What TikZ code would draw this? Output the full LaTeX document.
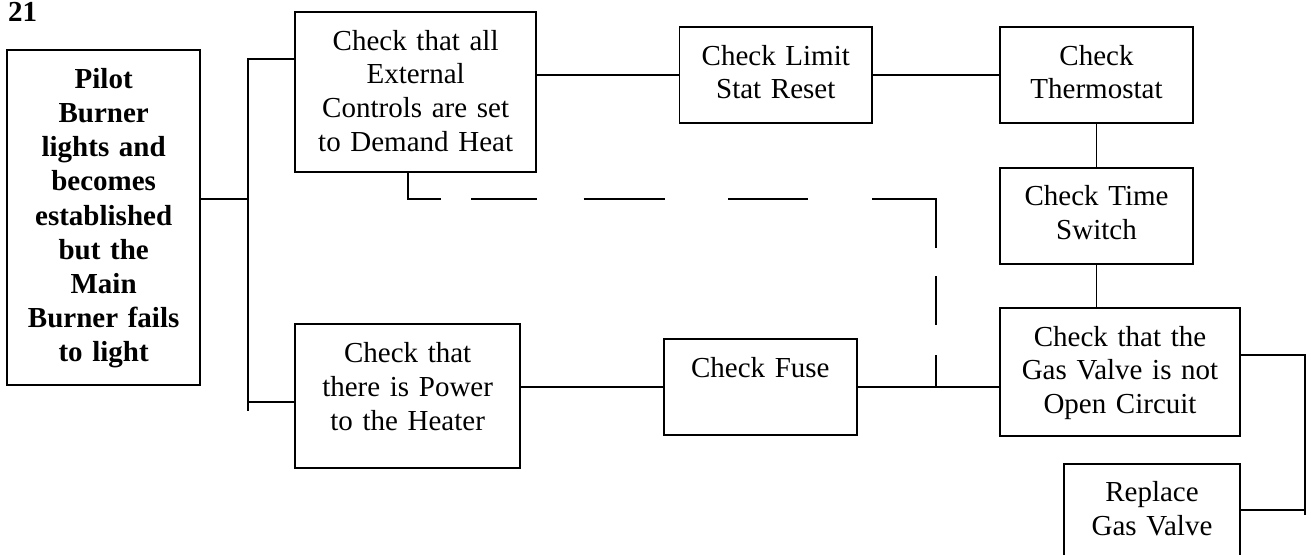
\documentclass[tikz,border=0pt]{standalone}
\usepackage{fontspec}
\setmainfont{Liberation Serif}
\begin{document}
\begin{tikzpicture}[x=1pt,y=-1pt,
  box/.style={draw=black, line width=1.9pt, inner sep=0pt, outer sep=0pt, anchor=north west},
  txt/.style={anchor=base, inner sep=0pt, align=center, font=\fontsize{29}{33.8}\selectfont},
  wire/.style={draw=black, line width=1.9pt},
  dashwire/.style={draw=black, line width=1.9pt,
    dash pattern=on 60pt off 30.3pt on 65.7pt off 46.6pt on 81.7pt off 62.7pt on 80.3pt off 63.7pt on 113pt off 28pt on 49pt off 30pt on 40pt}
]
\useasboundingbox (0,0) rectangle (1311,554);
\clip (0,0) rectangle (1311,554);
\fill[white] (0,0) rectangle (1311,554);

\node[anchor=base west, inner sep=0pt, font=\fontsize{29}{33.8}\selectfont\bfseries] (num) at (8,21) {21};

% boxes
\node[box, minimum width=192.7pt, minimum height=335pt] (pilot) at (7.3,50) {};
\node[box, minimum width=240.7pt, minimum height=160pt] (ext) at (295.3,12.3) {};
\node[box, minimum width=192.5pt, minimum height=95.7pt] (limit) at (679.5,27.3) {};
\node[box, minimum width=193pt, minimum height=95.7pt] (thermo) at (1000,27.3) {};
\node[box, minimum width=193pt, minimum height=96pt] (time) at (1000,168) {};
\node[box, minimum width=240pt, minimum height=127.7pt] (gas) at (1000,308) {};
\node[box, minimum width=176pt, minimum height=130pt] (replace) at (1064,464) {};
\node[box, minimum width=224.7pt, minimum height=144pt] (power) at (295.3,324.3) {};
\node[box, minimum width=192.7pt, minimum height=96pt] (fuse) at (664,339) {};

% texts
\node[txt, text width=185pt, font=\fontsize{29}{34.2}\selectfont\bfseries] (pilot-t) at ([yshift=-38.3pt]pilot.north)
  {Pilot\\Burner\\lights and\\becomes\\established\\but the\\Main\\Burner fails\\to light};
\node[txt, text width=232pt] (ext-t) at ([yshift=-37.7pt]ext.north) {Check that all\\External\\Controls are set\\to Demand Heat};
\node[txt, text width=185pt] (limit-t) at ([yshift=-37.7pt]limit.north) {Check Limit\\Stat Reset};
\node[txt, text width=185pt] (thermo-t) at ([yshift=-37.7pt]thermo.north) {Check\\Thermostat};
\node[txt, text width=185pt] (time-t) at ([yshift=-37.3pt]time.north) {Check Time\\Switch};
\node[txt, text width=232pt] (gas-t) at ([yshift=-38pt]gas.north) {Check that the\\Gas Valve is not\\Open Circuit};
\node[txt, text width=168pt] (replace-t) at ([yshift=-37.7pt]replace.north) {Replace\\Gas Valve};
\node[txt, text width=216pt] (power-t) at ([yshift=-38.4pt]power.north) {Check that\\there is Power\\to the Heater};
\node[txt, text width=185pt] (fuse-t) at ([yshift=-38.3pt]fuse.north) {Check Fuse};

% junction coordinates
\coordinate (j1) at (247.7,199.3);
\coordinate (btop) at (247.7,59);
\coordinate (bbot) at (247.7,410.7);
\coordinate (jb) at (247.7,401.7);
\coordinate (g1) at (1305,355);
\coordinate (g2) at (1305,515);
\coordinate (r1) at (1305,510);
\coordinate (d1) at (408,199.3);
\coordinate (d2) at (936,199.3);

% connectors
\draw[wire] (pilot.east |- j1) -- (j1);
\draw[wire] (ext.west |- btop) -- (btop) -- (bbot);
\draw[wire] (jb) -- (jb -| power.west);
\draw[wire] (ext.east |- limit.west) -- (limit.west);
\draw[wire] (limit.east) -- (thermo.west);
\draw[wire] (thermo.south) -- (time.north);
\draw[wire] (time.south) -- (time.south |- gas.north);
\draw[wire] (power.east |- fuse.west) -- (fuse.west);
\draw[wire] (fuse.east) -- (fuse.east -| gas.west);
\draw[wire] (gas.east |- g1) -- (g1) -- (g2);
\draw[wire] (replace.east |- r1) -- (r1);
\draw[dashwire] (d1 |- ext.south) -- (d1) -- (d2) -- (d2 |- fuse.east);
\end{tikzpicture}
\end{document}
